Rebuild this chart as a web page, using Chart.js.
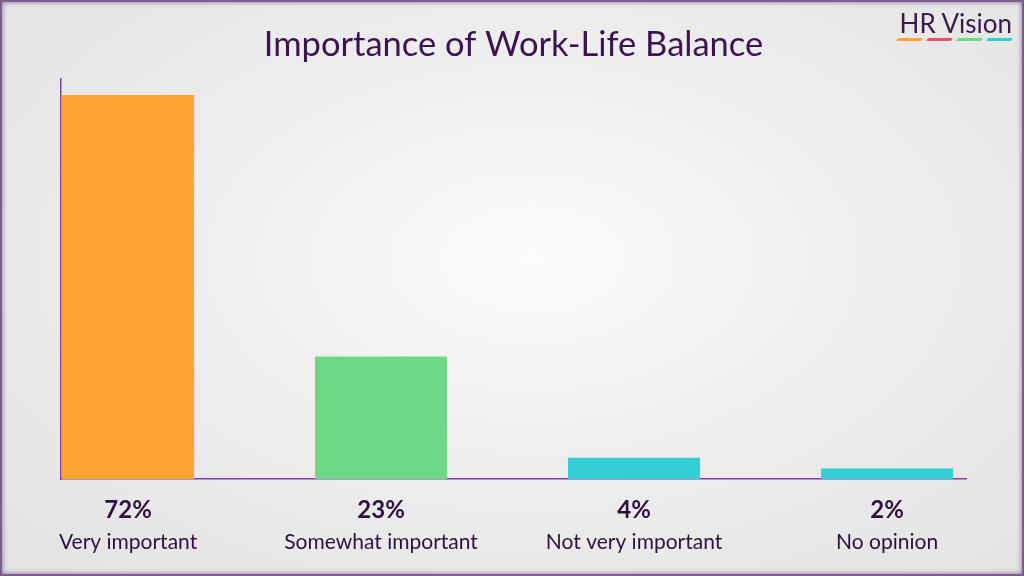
<!DOCTYPE html>
<html>
<head>
<meta charset="utf-8">
<script src="https://cdn.jsdelivr.net/npm/chart.js@4.4.1/dist/chart.umd.min.js"></script>
<style>
  html, body { margin: 0; padding: 0; }
  body {
    width: 1024px; height: 576px; overflow: hidden; position: relative;
    box-sizing: border-box;
    border: 2px solid #7d5c8e;
    box-shadow: inset 0 0 5px rgba(90, 50, 110, 0.7);
    background: radial-gradient(ellipse at 52% 45%, #fbfbfb 0%, #eeeeee 45%, #e2e2e2 100%);
    font-family: Lato, "Noto Sans", sans-serif;
  }
  #wrap { position: absolute; left: -2px; top: -2px; width: 1024px; height: 576px; }
  .logo { position: absolute; right: 10px; top: 5px; color: #3a1a4a; font-size: 26px; }
  .dashes { position: absolute; right: 10px; top: 36px; display: flex; gap: 5px; }
  .dashes span { width: 25px; height: 3px; transform: skewX(-30deg); border-radius: 1px; }
</style>
</head>
<body>
<div id="wrap"><canvas id="chart" width="1024" height="576"></canvas></div>
<div class="logo">HR Vision</div>
<div class="dashes">
  <span style="background:#ffa433"></span>
  <span style="background:#e5506a"></span>
  <span style="background:#6dd987"></span>
  <span style="background:#33ced3"></span>
</div>
<script>
const categories = ["Very important", "Somewhat important", "Not very important", "No opinion"];
const values = [72, 23, 4, 2];
const colors = ["#ffa433", "#6dd987", "#33ced3", "#33ced3"];

const textColor = "#2d1240";
const axisColor = "#7b3f9e";

// category names under the percentage ticks, placed with the x scale
const categoryNames = {
  id: "categoryNames",
  afterDraw(chart) {
    const s = chart.scales.x;
    const c = chart.ctx;
    c.save();
    c.font = "21px Lato";
    c.fillStyle = textColor;
    c.textAlign = "center";
    c.textBaseline = "middle";
    categories.forEach((name, i) => {
      c.fillText(name, s.getPixelForValue(i), chart.chartArea.bottom + 63);
    });
    c.restore();
  }
};

const ctx = document.getElementById("chart");
new Chart(ctx, {
  type: "bar",
  data: {
    datasets: [{
      data: values.map((v, i) => ({ x: i, y: v })),
      backgroundColor: colors,
      barPercentage: 0.522,
      categoryPercentage: 1
    }]
  },
  options: {
    responsive: false,
    animation: false,
    layout: { padding: { left: 61, right: 58, top: 0, bottom: 34 } },
    plugins: {
      legend: { display: false },
      tooltip: { enabled: false },
      title: {
        display: true,
        text: "Importance of Work-Life Balance",
        color: "#3b1450",
        font: { family: "Lato", size: 34.5, weight: "normal" },
        padding: { top: 24, bottom: 13.6 }
      }
    },
    scales: {
      x: {
        type: "linear",
        min: -0.265,
        max: 3.312,
        offset: false,
        grid: { display: false, drawTicks: false },
        border: { color: axisColor, width: 1.5 },
        ticks: {
          stepSize: 1,
          includeBounds: false,
          autoSkip: false,
          maxRotation: 0,
          padding: 17,
          color: textColor,
          font: { family: "Lato", size: 24, weight: "bold" },
          callback: v => Number.isInteger(v) && values[v] !== undefined ? values[v] + "%" : ""
        }
      },
      y: {
        min: 0,
        max: 75,
        grid: { display: false, drawTicks: false },
        border: { color: axisColor, width: 1.5 },
        ticks: { display: false }
      }
    }
  },
  plugins: [categoryNames]
});
</script>
</body>
</html>
